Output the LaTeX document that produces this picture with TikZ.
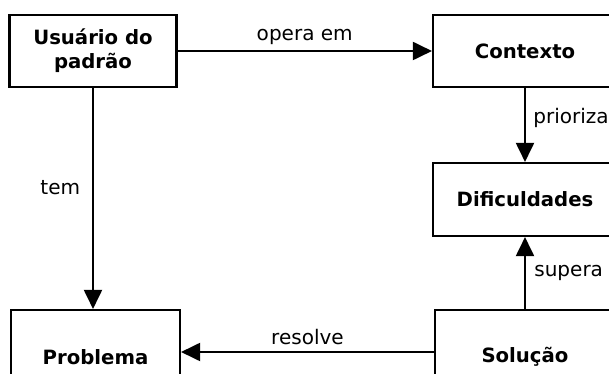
\documentclass[tikz,border=0pt]{standalone}
\usepackage{fontspec}
\setmainfont{DejaVu Sans}
\usetikzlibrary{arrows.meta}

\begin{document}
\begin{tikzpicture}[
    line width=1.1pt,
    >={Triangle[length=0.38cm,width=0.36cm]},
    box/.style={draw, line width=1.2pt, align=center, minimum height=1.44cm,
                font=\fontsize{11.2}{13.8}\selectfont\bfseries},
    lbl/.style={font=\fontsize{11.4}{13.8}\selectfont}
]
\useasboundingbox (0,0) rectangle (12.18,-7.48);

% Nodes (placed manually)
\node[box, minimum width=3.34cm] (USR) at (1.86,-1.02) {Usuário do\\padrão};
\node[box, minimum width=3.68cm] (CTX) at (10.5,-1.02) {Contexto};

\node[box, minimum width=3.68cm, minimum height=1.46cm] (DIF) at (10.5,-3.99) {Dificuldades};

\node[box, minimum width=3.38cm, minimum height=1.88cm] (PRB) at (1.91,-7.14) {Problema};
\node[box, minimum width=3.6cm, minimum height=1.88cm] (SOL) at (10.5,-7.14) {Solução};

% Directed arrows
\draw[->] (USR) -- node[lbl, midway, above] (opera) {opera em} (CTX);
\draw[->] (CTX) -- node[lbl, pos=0.4, right=0.03cm] (prior) {prioriza} (DIF);
\draw[->] (SOL) -- node[lbl, midway, right=0.05cm] (supera) {supera} (DIF);
\draw[->] (USR.south) -- node[lbl, pos=0.45, left=0.12cm] (tem) {tem} (USR.south |- PRB.north);
\draw[->] ([yshift=0.1cm]SOL.west) -- node[lbl, midway, above] (resolve) {resolve} ([yshift=0.1cm]PRB.east);

\end{tikzpicture}
\end{document}
